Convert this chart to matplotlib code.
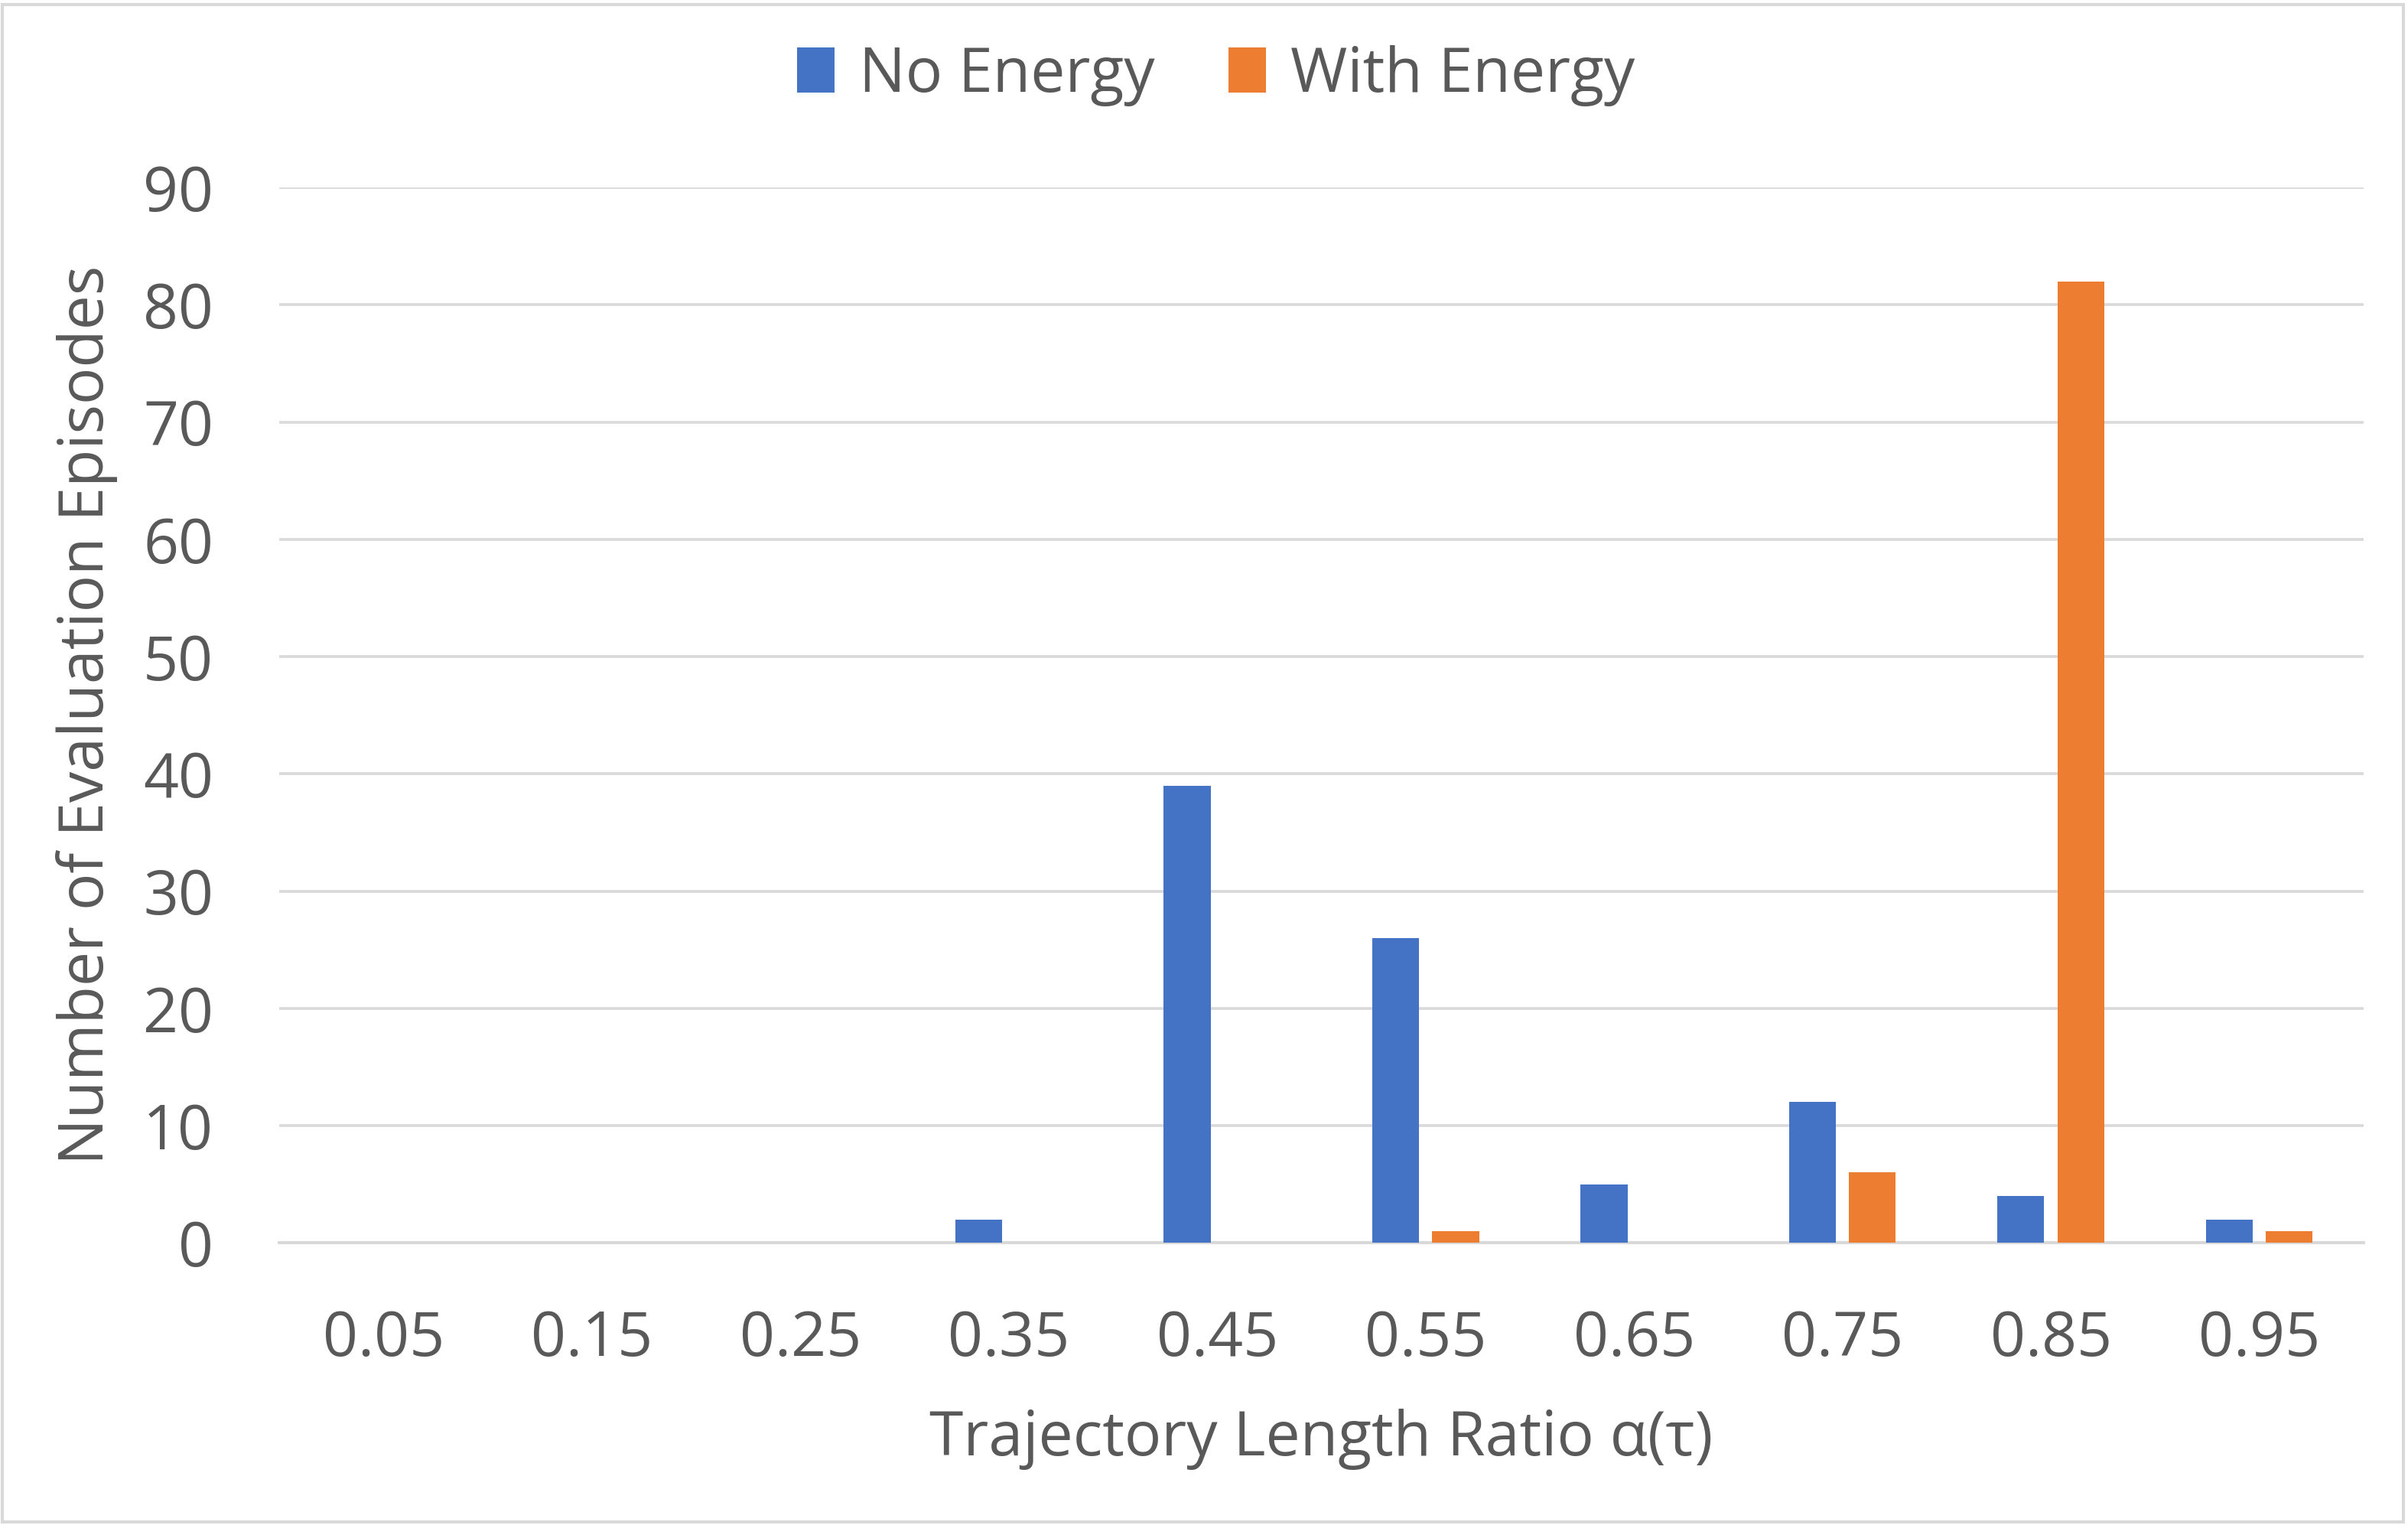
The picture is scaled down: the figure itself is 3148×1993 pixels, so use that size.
import matplotlib
matplotlib.use('agg')
import matplotlib.pyplot as plt
import numpy as np

categories = ['0.05', '0.15', '0.25', '0.35', '0.45', '0.55', '0.65', '0.75', '0.85', '0.95']
no_energy = [0, 0, 0, 2, 39, 26, 5, 12, 4, 2]
with_energy = [0, 0, 0, 0, 0, 1, 0, 6, 82, 1]

text_col = '#595959'
plt.rcParams['font.family'] = ['Open Sans', 'DejaVu Sans']

fig = plt.figure(figsize=(15.74, 9.965), dpi=200)
ax = fig.add_axes([0.116, 0.185, 0.8655, 0.692])

x = np.arange(len(categories))
w = 0.225
ax.bar(x - 0.144, no_energy, w, color='#4472C4', label='No Energy', zorder=3)
ax.bar(x + 0.144, with_energy, w, color='#ED7D31', label='With Energy', zorder=3)

ax.set_xlim(-0.5, len(categories) - 0.5)
ax.set_ylim(0, 90)
ax.set_yticks(range(0, 91, 10))
ax.yaxis.grid(True, color='#D9D9D9', linewidth=1.3, zorder=0)
for s in ['top', 'right', 'left']:
    ax.spines[s].set_visible(False)
ax.spines['bottom'].set_color('#D9D9D9')
ax.spines['bottom'].set_linewidth(1.5)
ax.tick_params(length=0, labelsize=29, labelcolor=text_col)
ax.tick_params(axis='x', pad=31)
ax.tick_params(axis='y', pad=31)
ax.set_xticks(x)
ax.set_xticklabels(categories)

ax.set_xlabel('Trajectory Length Ratio α(τ)', fontsize=29, color=text_col, labelpad=18)
ax.set_ylabel('Number of Evaluation Episodes', fontsize=29, color=text_col, labelpad=12)

fig.legend(loc='upper center', bbox_to_anchor=(0.505, 1.007), ncol=2, frameon=False,
           fontsize=29, labelcolor=text_col, handlelength=0.6, handleheight=0.75,
           columnspacing=1.2, handletextpad=0.4)

fig.patches.append(plt.Rectangle((0.001, 0.002), 0.997, 0.995, transform=fig.transFigure,
                                 fill=False, edgecolor='#D9D9D9', linewidth=1.5))

fig.savefig('out.png', dpi=200, facecolor='white')
